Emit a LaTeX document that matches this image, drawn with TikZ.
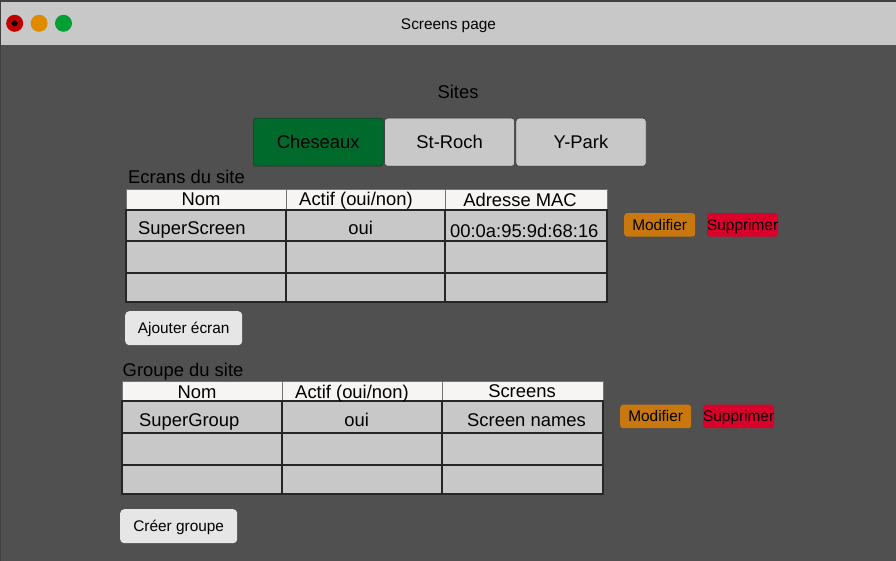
\documentclass[tikz,border=0pt]{standalone}
\usepackage{fontspec}
\setmainfont{Liberation Sans}
\usetikzlibrary{positioning}

\definecolor{barfill}{HTML}{C8C8C8}
\definecolor{pagefill}{HTML}{505050}
\definecolor{headfill}{HTML}{F7F4F4}
\definecolor{cellfill}{HTML}{C8C8C8}
\definecolor{tabgreen}{HTML}{006A2C}
\definecolor{btnfill}{HTML}{E6E6E6}
\definecolor{modfill}{HTML}{C8780F}
\definecolor{delfill}{HTML}{D9002B}
\definecolor{lightred}{HTML}{C00000}
\definecolor{lightorange}{HTML}{E08A00}
\definecolor{lightgreen}{HTML}{00A033}

\begin{document}
\begin{tikzpicture}[x=1pt,y=-1pt]
    \tikzstyle{bigtext} = [font=\fontsize{18.4}{22}\selectfont, inner sep=0]
    \tikzstyle{smalltext} = [font=\fontsize{15.4}{18}\selectfont, inner sep=0]
    \tikzstyle{tab} = [rectangle, draw=black!85, rounded corners=3pt,
        minimum width=130pt, minimum height=48pt, bigtext,
        text height=13.2pt, text depth=0pt]
    \tikzstyle{button} = [rectangle, fill=btnfill, rounded corners=4pt,
        minimum width=117pt, minimum height=34pt, smalltext,
        text height=11pt, text depth=0pt]
    \tikzstyle{action} = [rectangle, rounded corners=3pt, minimum width=71pt,
        minimum height=23.5pt, smalltext, text height=11pt, text depth=0pt]
    \tikzstyle{grid} = [draw=black!85, line width=1.3pt]
    \tikzstyle{headgrid} = [draw=black!55, line width=0.8pt]
    \tikzstyle{light} = [circle, minimum size=17pt, inner sep=0]

    \useasboundingbox (0,0) rectangle (896,561);
    % Window
    \fill[barfill] (0,0) rectangle (896,45);
    \fill[pagefill] (0,45) rectangle (896,561);
    \draw[black!75, line width=2pt] (0,1) -- (896,1);
    \draw[black!75, line width=1pt] (0.5,0) -- (0.5,561);
    \node[smalltext, anchor=base] (pagetitle) at (448.5,30) {Screens page};
    \node[light, fill=lightred] (closebtn) at (14.7,23.3) {};
    \node[circle, fill=black, minimum size=6pt, inner sep=0] (closedot)
        at (closebtn) {};
    \node[light, fill=lightorange, right=7pt of closebtn] (minbtn) {};
    \node[light, fill=lightgreen, right=7pt of minbtn] (maxbtn) {};

    % Sites
    \node[bigtext, anchor=base] (sitesname) at (458,98.3) {Sites};
    \node[tab, fill=tabgreen, anchor=north west] (cheseaux) at (253,118)
        {Cheseaux};
    \node[tab, fill=barfill, right=1pt of cheseaux] (stroch) {St-Roch};
    \node[tab, fill=barfill, right=1pt of stroch] (ypark) {Y-Park};

    % Ecrans du site
    \node[bigtext, anchor=base west] (ecransname) at (128,183.3)
        {Ecrans du site};
    \fill[headfill] (126,189) rectangle (607,210);
    \fill[cellfill] (126,210) rectangle (607,302);
    \draw[headgrid] (126,189) rectangle (607,210)
        (286,189) -- (286,210) (445,189) -- (445,210);
    \draw[grid] (126,210) rectangle (607,302);
    \draw[grid] (126,241) -- (607,241) (126,273) -- (607,273);
    \draw[grid] (286,210) -- (286,302) (445,210) -- (445,302);
    \node[bigtext, anchor=base] (ecransnom) at (201,205.7) {Nom};
    \node[bigtext, anchor=base] (ecransactif) at (356,205.7)
        {Actif (oui/non)};
    \node[bigtext, anchor=base] (ecransmac) at (520,206.5) {Adresse MAC};
    \node[bigtext, anchor=base west] (screenname) at (138,234.5)
        {SuperScreen};
    \node[bigtext, anchor=base] (screenactif) at (360.7,234.5) {oui};
    \node[bigtext, anchor=base] (screenmac) at (524.3,237.7)
        {00:0a:95:9d:68:16};
    \node[action, fill=modfill, anchor=north west] (modifyscreen)
        at (624,213) {Modifier};
    \node[action, fill=delfill, right=11.5pt of modifyscreen] (deletescreen)
        {Supprimer};
    \node[button, anchor=north west] (addscreen) at (125,311)
        {Ajouter écran};

    % Groupe du site
    \node[bigtext, anchor=base west] (groupname) at (122.5,376)
        {Groupe du site};
    \fill[headfill] (122,381) rectangle (603,401);
    \fill[cellfill] (122,401) rectangle (603,494);
    \draw[headgrid] (122,381) rectangle (603,401)
        (282,381) -- (282,401) (442,381) -- (442,401);
    \draw[grid] (122,401) rectangle (603,494);
    \draw[grid] (122,433) -- (603,433) (122,465) -- (603,465);
    \draw[grid] (282,401) -- (282,494) (442,401) -- (442,494);
    \node[bigtext, anchor=base] (groupnom) at (197,398.3) {Nom};
    \node[bigtext, anchor=base] (groupactif) at (352,398.3)
        {Actif (oui/non)};
    \node[bigtext, anchor=base] (groupscreens) at (522,397.5) {Screens};
    \node[bigtext, anchor=base west] (supergroup) at (139,426.5)
        {SuperGroup};
    \node[bigtext, anchor=base] (supergroupactif) at (356.7,426.5) {oui};
    \node[bigtext, anchor=base] (supergroupscreens) at (526.5,426.5)
        {Screen names};
    \node[action, fill=modfill, anchor=north west] (modifygroup)
        at (620,404.5) {Modifier};
    \node[action, fill=delfill, right=11.5pt of modifygroup] (deletegroup)
        {Supprimer};
    \node[button, anchor=north west] (addgroup) at (120,509)
        {Créer groupe};
\end{tikzpicture}
\end{document}
